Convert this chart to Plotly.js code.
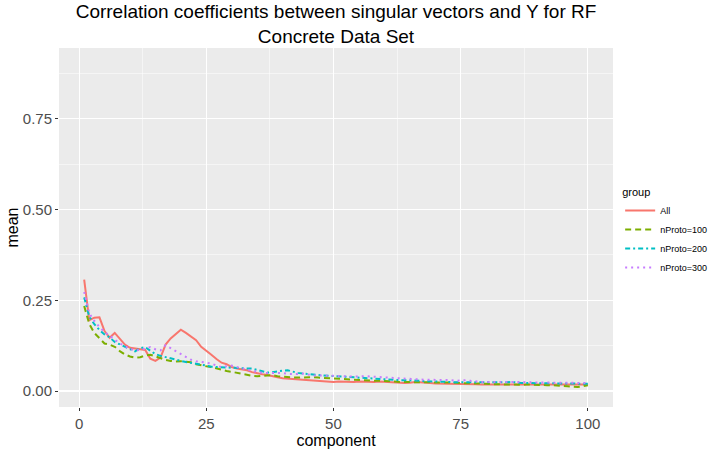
<!DOCTYPE html>
<html>
<head>
<meta charset="utf-8">
<script src="https://cdn.plot.ly/plotly-3.0.1.min.js"></script>
<style>
  html, body { margin: 0; padding: 0; background: #fff; }
  #plot { width: 712px; height: 450px; }
</style>
</head>
<body>
<div id="plot"></div>
<script>
const groups = ["All", "nProto=100", "nProto=200", "nProto=300"];
const groupColors = ["#F8766D", "#7CAE00", "#00BFC4", "#C77CFF"];
const groupDash = ["solid", "6px,4px", "5px,3px,2px,3px", "2px,4px"];

const component = Array.from({ length: 100 }, (_, i) => i + 1);

const meanAll = [
  0.307, 0.195, 0.202, 0.203, 0.165, 0.147, 0.160, 0.143, 0.128, 0.119,
  0.117, 0.117, 0.113, 0.089, 0.083, 0.092, 0.128, 0.145, 0.158, 0.169,
  0.160, 0.150, 0.140, 0.122, 0.112, 0.100, 0.088, 0.078, 0.074, 0.066,
  0.062, 0.060, 0.057, 0.052, 0.048, 0.046, 0.044, 0.042, 0.038, 0.035,
  0.034, 0.032, 0.031, 0.031, 0.031, 0.030, 0.028, 0.027, 0.026, 0.025,
  0.026, 0.025, 0.024, 0.025, 0.026, 0.025, 0.024, 0.025, 0.026, 0.025,
  0.024, 0.023, 0.023, 0.022, 0.023, 0.025, 0.024, 0.022, 0.022, 0.021,
  0.021, 0.020, 0.021, 0.020, 0.019, 0.019, 0.020, 0.019, 0.018, 0.018,
  0.019, 0.018, 0.018, 0.019, 0.018, 0.018, 0.017, 0.018, 0.018, 0.017,
  0.018, 0.018, 0.017, 0.018, 0.018, 0.017, 0.018, 0.018, 0.017, 0.018
];

const meanP100 = [
  0.234, 0.185, 0.160, 0.145, 0.131, 0.128, 0.122, 0.110, 0.101, 0.095,
  0.092, 0.093, 0.098, 0.100, 0.095, 0.090, 0.086, 0.083, 0.081, 0.082,
  0.080, 0.079, 0.074, 0.070, 0.068, 0.066, 0.062, 0.058, 0.055, 0.053,
  0.050, 0.048, 0.046, 0.042, 0.041, 0.042, 0.045, 0.044, 0.041, 0.039,
  0.038, 0.037, 0.037, 0.038, 0.039, 0.038, 0.037, 0.036, 0.035, 0.034,
  0.034, 0.033, 0.032, 0.031, 0.030, 0.029, 0.028, 0.028, 0.028, 0.028,
  0.027, 0.026, 0.025, 0.025, 0.025, 0.024, 0.024, 0.025, 0.025, 0.025,
  0.025, 0.024, 0.023, 0.023, 0.022, 0.022, 0.022, 0.022, 0.021, 0.020,
  0.019, 0.018, 0.018, 0.018, 0.018, 0.017, 0.017, 0.018, 0.017, 0.016,
  0.016, 0.016, 0.016, 0.016, 0.014, 0.013, 0.012, 0.011, 0.013, 0.016
];

const meanP200 = [
  0.258, 0.205, 0.184, 0.168, 0.156, 0.148, 0.135, 0.128, 0.123, 0.115,
  0.109, 0.118, 0.121, 0.111, 0.102, 0.097, 0.093, 0.090, 0.086, 0.083,
  0.080, 0.078, 0.076, 0.073, 0.070, 0.067, 0.066, 0.066, 0.065, 0.063,
  0.062, 0.062, 0.062, 0.062, 0.059, 0.056, 0.051, 0.052, 0.055, 0.056,
  0.057, 0.053, 0.050, 0.048, 0.046, 0.045, 0.044, 0.043, 0.042, 0.041,
  0.041, 0.040, 0.040, 0.039, 0.037, 0.035, 0.034, 0.034, 0.034, 0.033,
  0.032, 0.031, 0.030, 0.030, 0.030, 0.029, 0.028, 0.027, 0.027, 0.026,
  0.026, 0.025, 0.025, 0.024, 0.024, 0.023, 0.023, 0.022, 0.022, 0.022,
  0.022, 0.022, 0.023, 0.024, 0.025, 0.023, 0.022, 0.022, 0.022, 0.022,
  0.022, 0.022, 0.021, 0.021, 0.022, 0.022, 0.022, 0.021, 0.020, 0.020
];

const meanP300 = [
  0.273, 0.214, 0.193, 0.176, 0.163, 0.152, 0.142, 0.131, 0.124, 0.116,
  0.112, 0.113, 0.117, 0.121, 0.115, 0.112, 0.126, 0.118, 0.108, 0.102,
  0.092, 0.086, 0.082, 0.080, 0.078, 0.076, 0.070, 0.066, 0.068, 0.070,
  0.066, 0.062, 0.058, 0.056, 0.053, 0.050, 0.050, 0.050, 0.052, 0.050,
  0.047, 0.046, 0.047, 0.048, 0.045, 0.043, 0.043, 0.043, 0.042, 0.042,
  0.041, 0.041, 0.040, 0.039, 0.040, 0.041, 0.040, 0.039, 0.038, 0.037,
  0.036, 0.036, 0.035, 0.034, 0.033, 0.031, 0.031, 0.031, 0.031, 0.031,
  0.031, 0.031, 0.030, 0.028, 0.029, 0.030, 0.028, 0.026, 0.025, 0.025,
  0.025, 0.026, 0.027, 0.026, 0.025, 0.025, 0.025, 0.024, 0.024, 0.024,
  0.024, 0.023, 0.022, 0.022, 0.022, 0.022, 0.022, 0.022, 0.022, 0.022
];

const xTicks = [0, 25, 50, 75, 100];
const yTicks = [0, 0.25, 0.5, 0.75];
const yTickText = ["0.00", "0.25", "0.50", "0.75"];

const series = [meanAll, meanP100, meanP200, meanP300];

const traces = series.map((y, i) => ({
  x: component,
  y,
  type: "scatter",
  mode: "lines",
  name: groups[i],
  line: { color: groupColors[i], width: 2, dash: groupDash[i] },
  hoverinfo: "skip"
}));

const FONT = "Liberation Sans, Arial, sans-serif";

const axisCommon = {
  showline: false,
  zeroline: false,
  gridcolor: "#FFFFFF",
  gridwidth: 1.1,
  ticks: "outside",
  ticklen: 3,
  tickwidth: 1,
  tickcolor: "#333333",
  tickfont: { family: FONT, size: 15, color: "#4D4D4D" }
};

const layout = {
  width: 712,
  height: 450,
  paper_bgcolor: "#FFFFFF",
  plot_bgcolor: "#EBEBEB",
  margin: { l: 59, r: 99, t: 48, b: 43 },
  font: { family: FONT },
  title: {
    text: "Correlation coefficients between singular vectors and Y for RF<br>Concrete Data Set",
    font: { family: FONT, size: 19, color: "#000000" },
    x: 0.5,
    xref: "paper",
    y: 0.96,
    yref: "container",
    yanchor: "bottom"
  },
  xaxis: Object.assign({}, axisCommon, {
    range: [-3.95, 104.95],
    tickvals: xTicks,
    ticktext: xTicks.map(String),
    minor: { tickvals: [12.5, 37.5, 62.5, 87.5], gridcolor: "#FFFFFF", gridwidth: 0.5, ticks: "" },
    title: { text: "component", font: { family: FONT, size: 16, color: "#000000" }, standoff: 0 }
  }),
  yaxis: Object.assign({}, axisCommon, {
    range: [-0.044, 0.945],
    tickvals: yTicks,
    ticktext: yTickText,
    minor: { tickvals: [0.125, 0.375, 0.625, 0.875], gridcolor: "#FFFFFF", gridwidth: 0.5, ticks: "" },
    title: { text: "mean", font: { family: FONT, size: 16, color: "#000000" }, standoff: 0 }
  }),
  showlegend: true,
  legend: {
    xref: "container",
    yref: "container",
    x: 0.871,
    xanchor: "left",
    y: 0.596,
    yanchor: "top",
    bgcolor: "rgba(0,0,0,0)",
    font: { family: FONT, size: 9, color: "#000000" },
    title: { text: "group", font: { family: FONT, size: 11, color: "#000000" } },
    tracegroupgap: 0,
    itemwidth: 30
  }
};

Plotly.newPlot("plot", traces, layout, { displayModeBar: false, staticPlot: true });
</script>
</body>
</html>
